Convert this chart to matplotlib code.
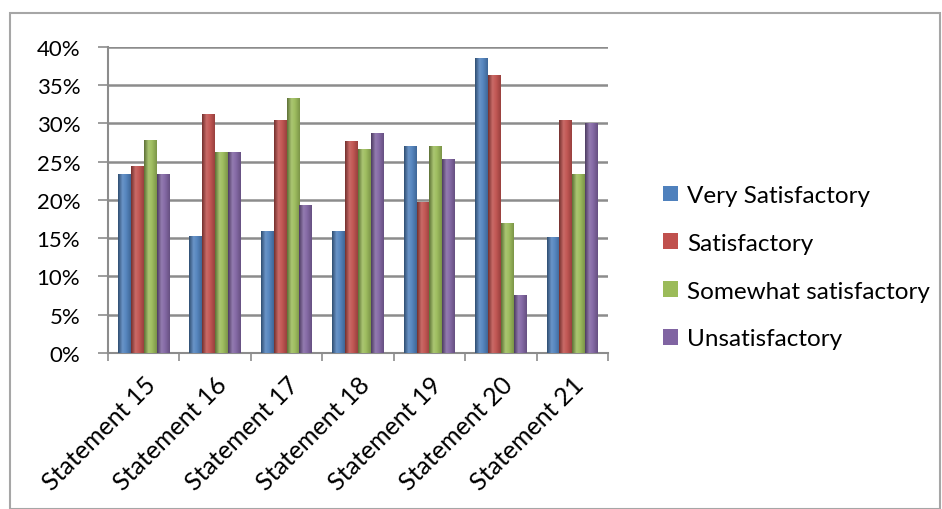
import numpy as np
import matplotlib.pyplot as plt
from matplotlib.patches import Rectangle
from matplotlib.colors import LinearSegmentedColormap, to_rgb

plt.rcParams['font.family'] = ['Lato', 'DejaVu Sans']

# data (percent)
statements = ['Statement 15', 'Statement 16', 'Statement 17', 'Statement 18',
              'Statement 19', 'Statement 20', 'Statement 21']
very_satisfactory = [23.4, 15.3, 16.0, 16.0, 27.0, 38.5, 15.2]
satisfactory = [24.5, 31.3, 30.5, 27.7, 19.8, 36.3, 30.5]
somewhat_satisfactory = [27.8, 26.3, 33.3, 26.7, 27.0, 17.0, 23.4]
unsatisfactory = [23.4, 26.3, 19.4, 28.8, 25.4, 7.6, 30.0]

series = [('Very Satisfactory', very_satisfactory, '#4F81BD'),
          ('Satisfactory', satisfactory, '#C0504D'),
          ('Somewhat satisfactory', somewhat_satisfactory, '#9BBB59'),
          ('Unsatisfactory', unsatisfactory, '#8064A2')]


def shade(col, f):
    r = np.array(to_rgb(col))
    if f < 1:
        return tuple(r * f)
    return tuple(r + (1 - r) * (f - 1))


fig = plt.figure(figsize=(9.42, 5.10), dpi=100)
ax = fig.add_axes([0.1146, 0.3059, 0.5308, 0.6])

# outer chart border
fig.patches.append(Rectangle((0.011, 0.0), 0.987, 0.973, transform=fig.transFigure,
                             fill=False, edgecolor='#A6A6A6', linewidth=1.5))

x = np.arange(len(statements))
w = 0.18
grad = np.linspace(0, 1, 64).reshape(1, -1)
for i, (name, vals, col) in enumerate(series):
    bars = ax.bar(x + (i - 1.5) * w, vals, width=w, color=col, label=name,
                  edgecolor='none', zorder=3)
    # cylinder-like shading, like the Excel bars
    cmap = LinearSegmentedColormap.from_list(
        name, [(0, shade(col, 0.6)), (0.35, shade(col, 1.15)),
               (0.6, shade(col, 1.05)), (1, shade(col, 0.8))])
    for b in bars:
        im = ax.imshow(grad, cmap=cmap, aspect='auto', zorder=4,
                       extent=(b.get_x(), b.get_x() + b.get_width(), 0, b.get_height()))
        im.set_clip_path(b)

ax.set_xlim(-0.5, len(statements) - 0.5)
ax.set_ylim(0, 40)
ax.set_aspect('auto')
ax.set_yticks(np.arange(0, 41, 5))
ax.set_yticklabels([f'{v}%' for v in range(0, 41, 5)], fontsize=16)
ax.yaxis.grid(True, color='#8C8C8C', linewidth=1.8, zorder=0)

ax.set_xticks(x)
ax.set_xticklabels(statements, rotation=45, ha='right', rotation_mode='anchor', fontsize=18)
ax.set_xticks(np.arange(-0.5, len(statements)), minor=True)
ax.tick_params(axis='x', which='major', length=0, pad=14)
ax.tick_params(axis='x', which='minor', length=6, color='#8C8C8C', width=1.2)
ax.tick_params(axis='y', length=7, color='#8C8C8C', width=1.2, pad=13)

for s in ['top', 'right']:
    ax.spines[s].set_visible(False)
for s in ['left', 'bottom']:
    ax.spines[s].set_color('#8C8C8C')
    ax.spines[s].set_linewidth(1.5)

fig.legend(loc='center left', bbox_to_anchor=(0.681, 0.474), frameon=False,
           fontsize=17.5, handlelength=0.62, handleheight=0.62, labelspacing=1.1,
           handletextpad=0.35)

fig.savefig('out.png', dpi=100)
